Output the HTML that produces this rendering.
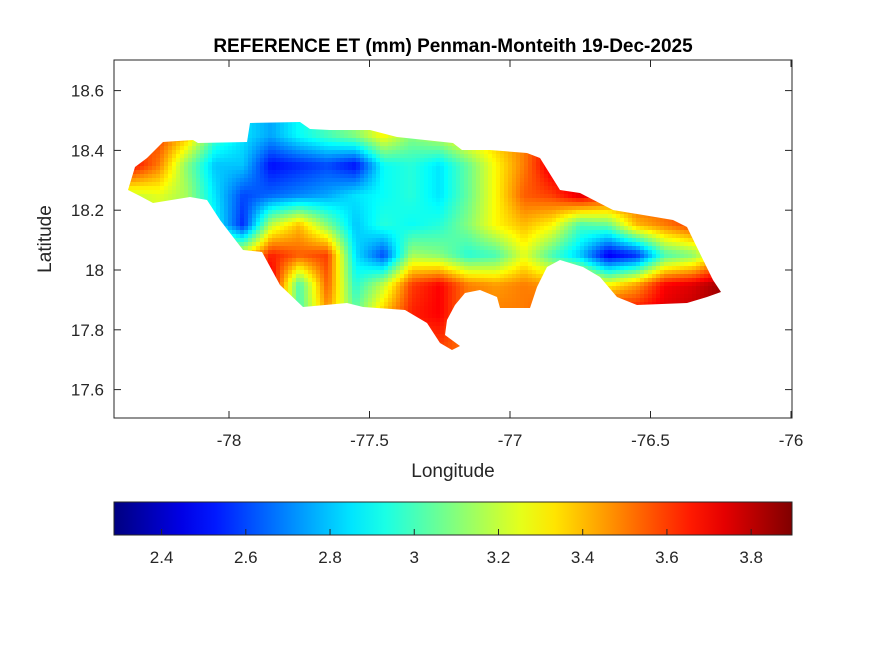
<!DOCTYPE html>
<html><head><meta charset="utf-8"><style>
body{margin:0;background:#fff;font-family:"Liberation Sans",Arial,sans-serif}
</style></head><body>
<svg id="chart" width="875" height="656" viewBox="0 0 875 656">
<defs>
<clipPath id="island"><polygon points="128,190 135,167 147,158 163,142 193,140 198,143 247,142 250,123 300,122 310,129 330,130 370,130 397,137 453,143 462,150 490,150 527,153 540,158 560,190 580,193 613,210 673,220 687,227 713,280 721,292 707,297 687,303 637,305 617,297 600,277 583,267 560,260 547,267 537,287 530,308 500,308 497,297 480,290 465,293 455,305 447,320 445,335 460,346 452,350 440,343 427,323 405,310 363,307 347,303 303,307 280,285 262,252 243,250 220,220 207,200 190,197 153,203 140,196"/></clipPath>
<linearGradient id="jet" x1="0" x2="1" y1="0" y2="0"></linearGradient>
</defs>
<rect x="0" y="0" width="875" height="656" fill="#fff"/>
<text x="453" y="52" text-anchor="middle" font-size="19" font-weight="bold" fill="#000">REFERENCE ET (mm) Penman-Monteith 19-Dec-2025</text>
<g clip-path="url(#island)"><g id="cells" shape-rendering="crispEdges"></g></g>
<rect x="114" y="60" width="678" height="358" fill="none" stroke="#262626" stroke-width="1"/>
<g id="xticks"></g><g id="yticks"></g>
<text x="453" y="477" text-anchor="middle" font-size="19" fill="#262626">Longitude</text>
<text transform="translate(51,239) rotate(-90)" text-anchor="middle" font-size="19" fill="#262626">Latitude</text>
<rect x="114" y="502" width="678" height="33" fill="url(#jet)" stroke="#262626" stroke-width="1"/>
<g id="cticks"></g>
</svg>
<script>
const lonCenters=[-78.35,-78.25,-78.15,-78.05,-77.95,-77.85,-77.75,-77.65,-77.55,-77.45,-77.35,-77.25,-77.15,-77.05,-76.95,-76.85,-76.75,-76.65,-76.55,-76.45,-76.35,-76.25];
const latCenters=[18.45,18.35,18.25,18.15,18.05,17.95,17.85,17.75];
const etRow0=[3.5,3.6,3.4,3.0,2.85,2.75,2.9,3.0,3.1,3.3,3.1,3.2,3.35,3.4,3.5,3.7,3.6,3.6,3.6,3.6,3.6,3.6];
const etRow1=[3.7,3.5,3.1,2.8,2.8,2.5,2.55,2.6,2.5,2.9,2.95,2.85,3.05,3.3,3.5,3.75,3.7,3.6,3.6,3.6,3.6,3.6];
const etRow2=[3.2,3.25,3.15,2.85,2.6,2.65,2.7,2.75,2.85,2.9,2.95,2.85,3.05,3.3,3.55,3.6,3.75,3.65,3.6,3.6,3.6,3.6];
const etRow3=[3.2,3.2,3.1,2.9,2.55,3.2,3.4,3.1,2.8,2.95,2.9,2.95,3.1,3.3,3.4,3.3,3.0,3.05,3.4,3.5,3.6,3.6];
const etRow4=[3.3,3.3,3.3,3.3,3.3,3.65,3.55,3.6,2.85,2.6,3.15,3.1,2.95,3.0,3.25,3.0,2.8,2.45,2.55,3.0,3.1,3.4];
const etRow5=[3.6,3.6,3.6,3.6,3.6,3.75,3.0,3.55,2.95,3.2,3.6,3.7,3.5,3.45,3.5,3.45,3.45,3.3,3.45,3.7,3.75,3.85];
const etRow6=[3.6,3.6,3.6,3.6,3.6,3.7,3.0,3.45,3.05,3.4,3.65,3.7,3.5,3.5,3.5,3.6,3.7,3.75,3.7,3.75,3.8,3.85];
const etRow7=[3.6,3.6,3.6,3.6,3.6,3.6,3.6,3.6,3.6,3.6,3.6,3.6,3.5,3.6,3.6,3.6,3.6,3.6,3.6,3.6,3.6,3.6];
const etRows=[etRow0,etRow1,etRow2,etRow3,etRow4,etRow5,etRow6,etRow7];
const xTickVals=[-78,-77.5,-77,-76.5,-76];
const xTickLabels=["-78","-77.5","-77","-76.5","-76"];
const yTickVals=[18.6,18.4,18.2,18,17.8,17.6];
const yTickLabels=["18.6","18.4","18.2","18","17.8","17.6"];
const cTickVals=[2.4,2.6,2.8,3,3.2,3.4,3.6,3.8];
const cTickLabels=["2.4","2.6","2.8","3","3.2","3.4","3.6","3.8"];
const cMin=2.287,cMax=3.897;
const NS="http://www.w3.org/2000/svg";
const xScale=lon=>229+(lon+78)*281;
const yScale=lat=>270-(lat-18)*299;
const xInv=x=>(x-229)/281-78;
const yInv=y=>18-(y-270)/299;
const cScale=v=>114+(v-cMin)/(cMax-cMin)*678;
function jet(t){t=Math.max(0,Math.min(1,t));
 const c=x=>Math.round(255*Math.max(0,Math.min(1,x)));
 const r=c(Math.min(4*t-1.5,-4*t+4.5)),g=c(Math.min(4*t-0.5,-4*t+3.5)),b=c(Math.min(4*t+0.5,-4*t+2.5));
 return `rgb(${r},${g},${b})`;}
function sample(lon,lat){
 const nI=lonCenters.length,nJ=latCenters.length;
 let fi=(lon-lonCenters[0])/(lonCenters[1]-lonCenters[0]);
 let fj=(lat-latCenters[0])/(latCenters[1]-latCenters[0]);
 fi=Math.max(0,Math.min(nI-1.0001,fi));fj=Math.max(0,Math.min(nJ-1.0001,fj));
 const i=Math.floor(fi),j=Math.floor(fj),a=fi-i,b=fj-j;
 const v00=etRows[j][i],v10=etRows[j][i+1],v01=etRows[j+1][i],v11=etRows[j+1][i+1];
 return (v00*(1-a)+v10*a)*(1-b)+(v01*(1-a)+v11*a)*b;}
const cells=document.getElementById('cells');
const step=4;
for(let y=118;y<354;y+=step){for(let x=124;x<726;x+=step){
 const v=sample(xInv(x+step/2),yInv(y+step/2));
 const r=document.createElementNS(NS,'rect');
 r.setAttribute('x',x);r.setAttribute('y',y);r.setAttribute('width',step);r.setAttribute('height',step);
 r.setAttribute('fill',jet((v-cMin)/(cMax-cMin)));
 
 
 cells.appendChild(r);}}
const grad=document.getElementById('jet');
for(let k=0;k<=20;k++){const s=document.createElementNS(NS,'stop');s.setAttribute('offset',k/20);s.setAttribute('stop-color',jet(k/20));grad.appendChild(s);}
function txt(parent,x,y,s,anchor,name){const t=document.createElementNS(NS,'text');t.setAttribute('x',x);t.setAttribute('y',y);t.setAttribute('text-anchor',anchor);t.setAttribute('font-size','17');t.setAttribute('fill','#262626');t.textContent=s;
 
 
 parent.appendChild(t);}
function ln(parent,x1,y1,x2,y2){const l=document.createElementNS(NS,'line');l.setAttribute('x1',x1);l.setAttribute('y1',y1);l.setAttribute('x2',x2);l.setAttribute('y2',y2);l.setAttribute('stroke','#262626');parent.appendChild(l);}
const xt=document.getElementById('xticks');
xTickVals.forEach((v,i)=>{const x=xScale(v);ln(xt,x,418,x,411);ln(xt,x,60,x,67);txt(xt,x,446,xTickLabels[i],'middle','x-tick-label');});
const yt=document.getElementById('yticks');
yTickVals.forEach((v,i)=>{const y=yScale(v);ln(yt,114,y,121,y);ln(yt,792,y,785,y);txt(yt,104,y+6,yTickLabels[i],'end','y-tick-label');});
const ct=document.getElementById('cticks');
cTickVals.forEach((v,i)=>{const x=cScale(v);ln(ct,x,535,x,529);txt(ct,x,563,cTickLabels[i],'middle','colorbar-tick-label');});
</script>
</body></html>
